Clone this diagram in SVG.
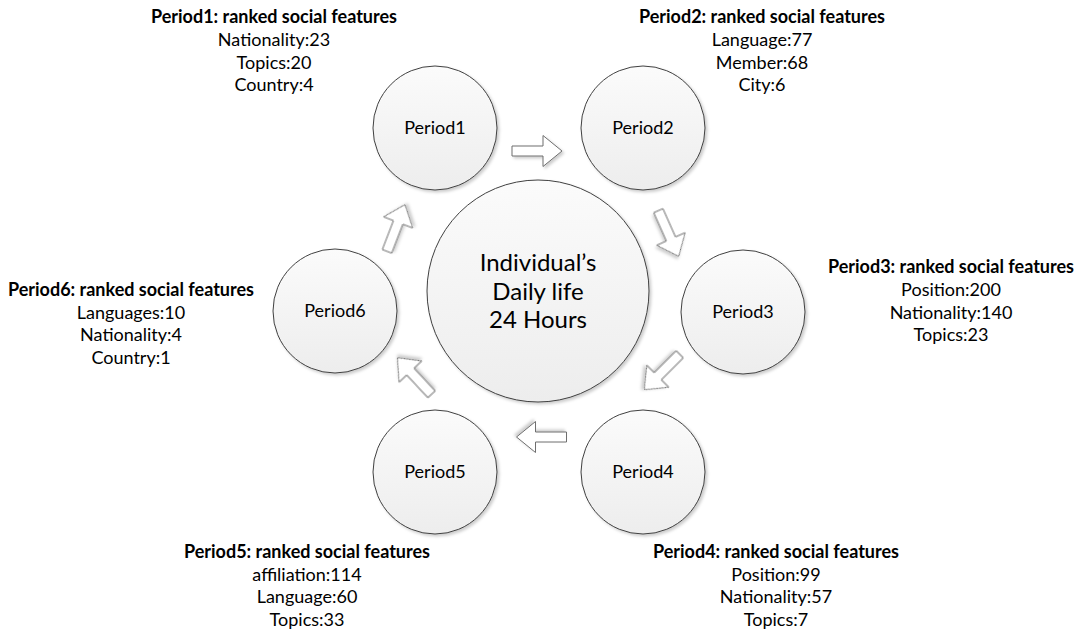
<svg xmlns="http://www.w3.org/2000/svg" width="1084" height="632" viewBox="0 0 1084 632">
  <style>
    text { font-family: Lato, "Liberation Sans", sans-serif; fill: #000; text-anchor: middle; }
    .lbl { font-size: 18px; }
    .ttl { font-size: 18px; font-weight: bold; }
    .hub { font-size: 24px; }
    .node circle { fill: url(#ballFill); stroke: #404040; stroke-width: 1; filter: url(#soft); }
    .arrow { fill: #ffffff; stroke: #6e6e6e; stroke-width: 1; filter: url(#soft); }
  </style>
  <defs>
    <linearGradient id="ballFill" x1="0" y1="0" x2="0" y2="1">
      <stop offset="0" stop-color="#fbfbfb"/>
      <stop offset="1" stop-color="#ededed"/>
    </linearGradient>
    <filter id="soft" x="-20%" y="-20%" width="140%" height="140%">
      <feDropShadow dx="2" dy="2" stdDeviation="1.5" flood-color="#000" flood-opacity="0.2"/>
    </filter>
    <!-- block arrow pointing along +x, centred on the origin -->
    <path id="blk" d="M-25,-5 H6 V-15.5 L25,0 L6,15.5 V5 H-25 Z"/>
  </defs>

  <rect width="1084" height="632" fill="#ffffff"/>

  <!-- connectors -->
  <g id="connectors">
    <use href="#blk" class="arrow" transform="translate(537,151)"/>
    <use href="#blk" class="arrow" transform="translate(668.5,233.5) rotate(66)"/>
    <use href="#blk" class="arrow" transform="translate(662,372) rotate(135)"/>
    <use href="#blk" class="arrow" transform="translate(541.5,437) rotate(180)"/>
    <use href="#blk" class="arrow" transform="translate(414.5,376) rotate(-133)"/>
    <use href="#blk" class="arrow" transform="translate(396,228) rotate(-69)"/>
  </g>

  <!-- centre -->
  <g id="hub" class="node">
    <circle cx="538" cy="291" r="111"/>
    <text class="hub" x="538" y="271">Individual’s</text>
    <text class="hub" x="538" y="299.5">Daily life</text>
    <text class="hub" x="538" y="328">24 Hours</text>
  </g>

  <!-- periods -->
  <g id="period1" class="node">
    <circle cx="435" cy="128" r="62"/>
    <text class="lbl" x="435" y="134">Period1</text>
  </g>
  <g id="period2" class="node">
    <circle cx="643" cy="128" r="62"/>
    <text class="lbl" x="643" y="134">Period2</text>
  </g>
  <g id="period3" class="node">
    <circle cx="743" cy="312" r="62"/>
    <text class="lbl" x="743" y="318">Period3</text>
  </g>
  <g id="period4" class="node">
    <circle cx="643" cy="472" r="62"/>
    <text class="lbl" x="643" y="478">Period4</text>
  </g>
  <g id="period5" class="node">
    <circle cx="435" cy="472" r="62"/>
    <text class="lbl" x="435" y="478">Period5</text>
  </g>
  <g id="period6" class="node">
    <circle cx="335" cy="311" r="62"/>
    <text class="lbl" x="335" y="317">Period6</text>
  </g>

  <!-- ranked feature lists -->
  <g id="features1">
    <text class="ttl" x="274" y="23">Period1: ranked social features</text>
    <text class="lbl" x="274" y="46">Nationality:23</text>
    <text class="lbl" x="274" y="68.5">Topics:20</text>
    <text class="lbl" x="274" y="91">Country:4</text>
  </g>
  <g id="features2">
    <text class="ttl" x="762" y="23">Period2: ranked social features</text>
    <text class="lbl" x="762" y="46">Language:77</text>
    <text class="lbl" x="762" y="68.5">Member:68</text>
    <text class="lbl" x="762" y="91">City:6</text>
  </g>
  <g id="features3">
    <text class="ttl" x="951" y="273">Period3: ranked social features</text>
    <text class="lbl" x="951" y="296">Position:200</text>
    <text class="lbl" x="951" y="318.5">Nationality:140</text>
    <text class="lbl" x="951" y="341">Topics:23</text>
  </g>
  <g id="features4">
    <text class="ttl" x="776" y="558">Period4: ranked social features</text>
    <text class="lbl" x="776" y="580.5">Position:99</text>
    <text class="lbl" x="776" y="603">Nationality:57</text>
    <text class="lbl" x="776" y="625.5">Topics:7</text>
  </g>
  <g id="features5">
    <text class="ttl" x="307" y="558">Period5: ranked social features</text>
    <text class="lbl" x="307" y="580.5">affiliation:114</text>
    <text class="lbl" x="307" y="603">Language:60</text>
    <text class="lbl" x="307" y="625.5">Topics:33</text>
  </g>
  <g id="features6">
    <text class="ttl" x="131" y="296">Period6: ranked social features</text>
    <text class="lbl" x="131" y="318.5">Languages:10</text>
    <text class="lbl" x="131" y="341">Nationality:4</text>
    <text class="lbl" x="131" y="363.5">Country:1</text>
  </g>
</svg>
